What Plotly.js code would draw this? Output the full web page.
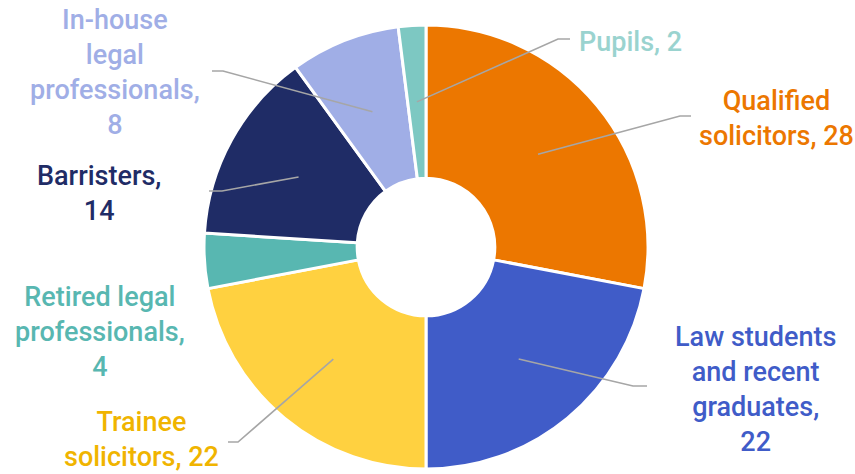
<!DOCTYPE html>
<html><head><meta charset="utf-8">
<script src="https://cdn.plot.ly/plotly-3.0.1.min.js"></script>
<style>html,body{margin:0;padding:0;background:#fff}#chart{width:855px;height:474px}</style>
</head><body><div id="chart"></div>
<script>
// ---- data ----
const categories = ["Qualified solicitors","Law students and recent graduates","Trainee solicitors","Retired legal professionals","Barristers","In-house legal professionals","Pupils"];
const values = [28, 22, 22, 4, 14, 8, 2];
const wrappedNames = ["Qualified<br>solicitors","Law students<br>and recent<br>graduates","Trainee<br>solicitors","Retired legal<br>professionals","Barristers","In-house<br>legal<br>professionals","Pupils"];
const valueSep = [" ","<br>"," ","<br>","<br>","<br>"," "];

// ---- styles / layout ----
const sliceColors = ["#EC7700","#405CC8","#FFD140","#58B7B1","#1F2C66","#A0AEE6","#7DC8C2"];
const textColors  = ["#EC7700","#405CC8","#F0B400","#58B7B1","#1F2C66","#A0AEE6","#9AD3CF"];
const W = 855, H = 474;
const cx = 426, cy = 247, R = 222, holeFrac = 0.31;
// label centres (px) and leader-line elbow/end points (px); null = no leader
const labelPos = [[776,118],[755,389],[141,439],[100,332],[99,193],[115,72],[630,42]];
const elbows = [[[680,116],[691,116]],[[633,386],[647,386]],[[238,442],[228,442]],null,[[222,191],[209,191]],[[223,71],[212,71]],[[558,39],[570,39]]];

const px = x => x / W, py = y => 1 - y / H;
const total = values.reduce((a,b)=>a+b,0);
const annotations = [], shapes = [];
let cum = 0;
const rMid = R * (1 + holeFrac) / 2;
values.forEach((v,i)=>{
  const mid = (cum + v/2) / total * 2 * Math.PI; cum += v;
  const ix = cx + rMid * Math.sin(mid), iy = cy - rMid * Math.cos(mid);
  if (elbows[i]) {
    const [e1,e2] = elbows[i];
    shapes.push({type:'path', xref:'paper', yref:'paper',
      path:`M ${px(ix)} ${py(iy)} L ${px(e1[0])} ${py(e1[1])} L ${px(e2[0])} ${py(e2[1])}`,
      line:{color:'#A6A6A6', width:1.6}});
  }
  annotations.push({xref:'paper', yref:'paper', x:px(labelPos[i][0]), y:py(labelPos[i][1]),
    xanchor:'center', yanchor:'middle', align:'center', showarrow:false,
    text: wrappedNames[i] + "," + valueSep[i] + v,
    font:{family:'Roboto, "Open Sans", sans-serif', size:27, weight:500, color:textColors[i]}});
});

const trace = {type:'pie', values:values, labels:categories, sort:false, direction:'clockwise', rotation:0,
  hole:holeFrac, textinfo:'none', hoverinfo:'label+value',
  marker:{colors:sliceColors, line:{color:'#ffffff', width:3}},
  domain:{x:[(cx-R)/W,(cx+R)/W], y:[1-(cy+R)/H, 1-(cy-R)/H]}};

const layout = {width:W, height:H, margin:{l:0,r:0,t:0,b:0}, showlegend:false,
  paper_bgcolor:'#ffffff', annotations:annotations, shapes:shapes};
Plotly.newPlot('chart',[trace],layout,{displayModeBar:false, staticPlot:true});
</script></body></html>
